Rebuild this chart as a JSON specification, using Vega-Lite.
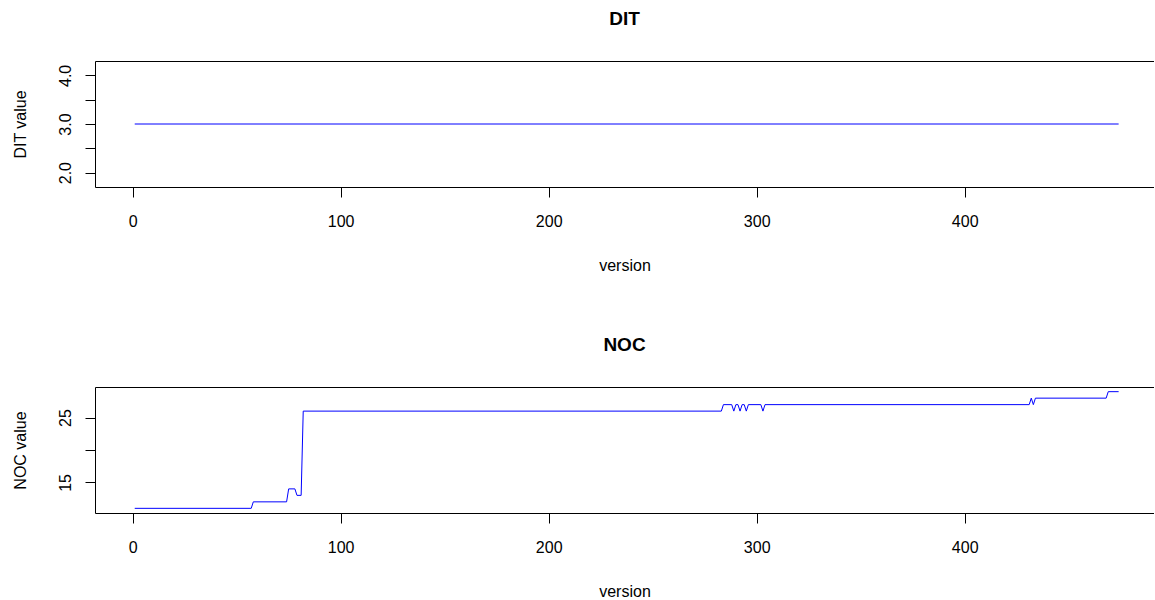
{
  "$schema": "https://vega.github.io/schema/vega-lite/v6.json",
  "background": "white",
  "autosize": {"type": "pad"},
  "padding": {"left": 12, "top": 10, "right": 0, "bottom": 0},
  "datasets": {
    "dit": [
      {"version": 1, "DIT": 3},
      {"version": 474, "DIT": 3}
    ],
    "noc": [
      {"version": 1, "NOC": 11},
      {"version": 57, "NOC": 11},
      {"version": 58, "NOC": 12},
      {"version": 74, "NOC": 12},
      {"version": 75, "NOC": 14},
      {"version": 78, "NOC": 14},
      {"version": 79, "NOC": 13},
      {"version": 81, "NOC": 13},
      {"version": 82, "NOC": 26},
      {"version": 283, "NOC": 26},
      {"version": 284, "NOC": 27},
      {"version": 288, "NOC": 27},
      {"version": 289, "NOC": 26},
      {"version": 290, "NOC": 27},
      {"version": 291, "NOC": 27},
      {"version": 292, "NOC": 26},
      {"version": 293, "NOC": 27},
      {"version": 294, "NOC": 27},
      {"version": 295, "NOC": 26},
      {"version": 296, "NOC": 27},
      {"version": 302, "NOC": 27},
      {"version": 303, "NOC": 26},
      {"version": 304, "NOC": 27},
      {"version": 431, "NOC": 27},
      {"version": 432, "NOC": 28},
      {"version": 433, "NOC": 27},
      {"version": 434, "NOC": 28},
      {"version": 468, "NOC": 28},
      {"version": 469, "NOC": 29},
      {"version": 474, "NOC": 29}
    ]
  },
  "spacing": 200,
  "bounds": "flush",
  "config": {
    "font": "Liberation Sans",
    "view": {"stroke": null},
    "axis": {
      "grid": false,
      "domain": true,
      "domainColor": "black",
      "domainWidth": 1,
      "tickColor": "black",
      "tickWidth": 1,
      "tickSize": 10,
      "labelColor": "black",
      "labelFont": "Liberation Sans",
      "labelFontSize": 16,
      "labelOverlap": false,
      "labelFlush": false,
      "titleFont": "Liberation Sans",
      "titleFontSize": 16,
      "titleFontWeight": "normal",
      "titleColor": "black"
    },
    "title": {
      "font": "Liberation Sans",
      "fontSize": 19,
      "fontWeight": "bold",
      "color": "black",
      "anchor": "middle",
      "baseline": "alphabetic",
      "offset": 32
    }
  },
  "vconcat": [
    {
      "width": 1059,
      "height": 126,
      "title": "DIT",
      "data": {"name": "dit"},
      "layer": [
        {
          "mark": {"type": "line", "color": "#0000FF", "strokeWidth": 1},
          "encoding": {
            "x": {
              "field": "version",
              "type": "quantitative",
              "scale": {"domain": [-18.1, 491.0], "nice": false, "zero": false},
              "axis": {
                "values": [0, 100, 200, 300, 400],
                "title": "version",
                "labelPadding": 16,
                "labelBaseline": "top",
                "titleBaseline": "alphabetic",
                "titleY": 83
              }
            },
            "y": {
              "field": "DIT",
              "type": "quantitative",
              "scale": {"domain": [1.704, 4.296], "nice": false, "zero": false},
              "axis": {
                "values": [2, 2.5, 3, 3.5, 4],
                "labelExpr": "datum.value % 1 == 0 ? format(datum.value, '.1f') : ''",
                "labelAngle": -90,
                "labelAlign": "center",
                "labelBaseline": "alphabetic",
                "labelPadding": 15,
                "title": "DIT value",
                "titleBaseline": "alphabetic",
                "titleX": -70
              }
            }
          }
        },
        {
          "mark": {"type": "line", "opacity": 0},
          "encoding": {
            "x": {
              "field": "version",
              "type": "quantitative",
              "scale": {"domain": [-18.1, 491.0], "nice": false, "zero": false},
              "axis": {"orient": "top", "labels": false, "ticks": false, "title": null, "domain": true}
            }
          }
        }
      ],
      "resolve": {"axis": {"x": "independent"}}
    },
    {
      "width": 1059,
      "height": 126,
      "title": "NOC",
      "data": {"name": "noc"},
      "layer": [
        {
          "mark": {"type": "line", "color": "#0000FF", "strokeWidth": 1},
          "encoding": {
            "x": {
              "field": "version",
              "type": "quantitative",
              "scale": {"domain": [-18.1, 491.0], "nice": false, "zero": false},
              "axis": {
                "values": [0, 100, 200, 300, 400],
                "title": "version",
                "labelPadding": 16,
                "labelBaseline": "top",
                "titleBaseline": "alphabetic",
                "titleY": 83
              }
            },
            "y": {
              "field": "NOC",
              "type": "quantitative",
              "scale": {"domain": [10.28, 29.72], "nice": false, "zero": false},
              "axis": {
                "values": [15, 20, 25],
                "labelExpr": "datum.value == 20 ? '' : datum.label",
                "labelAngle": -90,
                "labelAlign": "center",
                "labelBaseline": "alphabetic",
                "labelPadding": 15,
                "title": "NOC value",
                "titleBaseline": "alphabetic",
                "titleX": -70
              }
            }
          }
        },
        {
          "mark": {"type": "line", "opacity": 0},
          "encoding": {
            "x": {
              "field": "version",
              "type": "quantitative",
              "scale": {"domain": [-18.1, 491.0], "nice": false, "zero": false},
              "axis": {"orient": "top", "labels": false, "ticks": false, "title": null, "domain": true}
            }
          }
        }
      ],
      "resolve": {"axis": {"x": "independent"}}
    }
  ]
}
